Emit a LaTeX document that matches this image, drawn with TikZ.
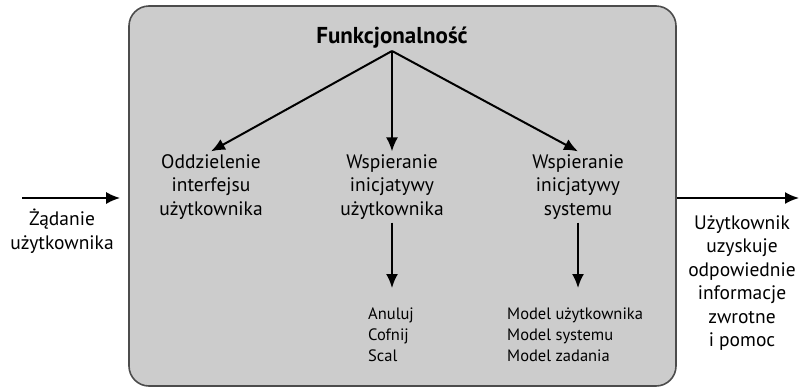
\documentclass[tikz,border=0pt]{standalone}
\usepackage{fontspec}
\setmainfont{PT Sans}
\usepackage{xcolor}
\usepackage{tikz}
\usetikzlibrary{positioning,calc,arrows.meta}

\begin{document}
\begin{tikzpicture}[
    x=1pt, y=-1pt,
    frame/.style={rectangle, rounded corners=20pt, draw=black!70, line width=1.6pt, fill=black!20, minimum width=547pt, minimum height=380pt},
    label/.style={align=center, inner sep=3pt, font=\fontsize{19.5}{23.5}\selectfont},
    title/.style={align=center, inner sep=3pt, font=\fontsize{23}{26}\selectfont\bfseries},
    list/.style={align=left, inner sep=0pt, anchor=north west, font=\fontsize{16.5}{21}\selectfont},
    arrow/.style={-{Latex[length=14pt,width=12pt]}, line width=2pt}
]
\useasboundingbox (0,0) rectangle (800,389);

% Main frame (center)
\node[frame] (frame) at (402.5,196) {};

% Title and the three branches
\node[title, anchor=base] (func) at (392,43) {Funkcjonalność};
\node[label] (oddz) at (211,187) {Oddzielenie\\interfejsu\\użytkownika};
\node[label] (wui) at (392,187) {Wspieranie\\inicjatywy\\użytkownika};
\node[label] (wis) at (578,187) {Wspieranie\\inicjatywy\\systemu};
\draw[arrow] (func.south) -- (oddz.north);
\draw[arrow] (func.south) -- (wui.north);
\draw[arrow] (func.south) -- (wis.north);

% Lists (bottom)
\node[list] (lista) at (368,308) {Anuluj\\Cofnij\\Scal};
\node[list] (listb) at (507,308) {Model użytkownika\\Model systemu\\Model zadania};
\draw[arrow, shorten >=20pt] (wui.south) -- (wui.south |- lista.north);
\draw[arrow, shorten >=20pt] (wis.south) -- (wis.south |- listb.north);

% Input (left)
\coordinate (in) at (22,198);
\node[label] (req) at (62,231) {Żądanie\\użytkownika};
\draw[arrow, shorten >=8pt] (in) -- (in -| frame.west);

% Output (right)
\coordinate (out) at (799,198);
\node[label] (resp) at (742,283) {Użytkownik\\uzyskuje\\odpowiednie\\informacje\\zwrotne\\i pomoc};
\draw[arrow] (out -| frame.east) -- (out);

\end{tikzpicture}
\end{document}
